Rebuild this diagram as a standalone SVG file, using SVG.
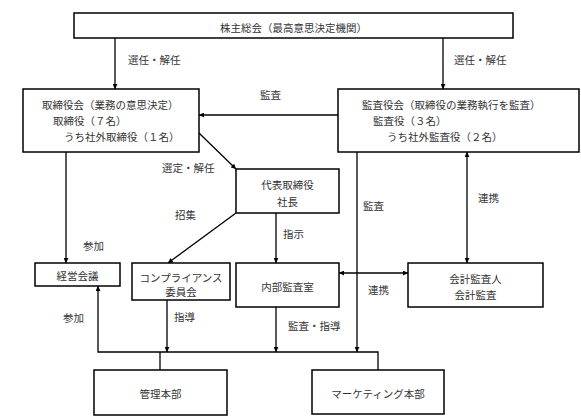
<svg xmlns="http://www.w3.org/2000/svg" width="581" height="418" viewBox="0 0 581 418">
<style>
  .box{fill:#fff;stroke:#000;stroke-width:1.5}
  .t{font-family:"Noto Sans CJK JP","Noto Sans",sans-serif;font-size:10.5px;fill:#333;dominant-baseline:central}
  .m{text-anchor:middle}
  .ln{fill:none;stroke:#000;stroke-width:1.3}
</style>
<defs>
  <marker id="ah" viewBox="0 0 10 10" refX="10" refY="5" markerWidth="5" markerHeight="5" orient="auto-start-reverse" markerUnits="userSpaceOnUse">
    <path d="M0,0 L10,5 L0,10 Z" fill="#000"/>
  </marker>
</defs>
<rect width="581" height="418" fill="#fff"/>

<g id="connectors">
  <line class="ln" x1="115" y1="38" x2="115" y2="89" marker-end="url(#ah)"/>
  <line class="ln" x1="443" y1="38" x2="443" y2="89" marker-end="url(#ah)"/>
  <line class="ln" x1="338" y1="115" x2="199" y2="115" marker-end="url(#ah)"/>
  <line class="ln" x1="199" y1="133" x2="236" y2="169" marker-end="url(#ah)"/>
  <line class="ln" x1="66" y1="152" x2="66" y2="263" marker-end="url(#ah)"/>
  <line class="ln" x1="236" y1="213" x2="168" y2="263" marker-end="url(#ah)"/>
  <line class="ln" x1="276" y1="213" x2="276" y2="263" marker-end="url(#ah)"/>
  <line class="ln" x1="357" y1="152" x2="357" y2="352" marker-end="url(#ah)"/>
  <line class="ln" x1="467" y1="152" x2="467" y2="263" marker-start="url(#ah)" marker-end="url(#ah)"/>
  <line class="ln" x1="339" y1="273" x2="408" y2="273" marker-start="url(#ah)" marker-end="url(#ah)"/>
  <line class="ln" x1="167" y1="300" x2="167" y2="352" marker-end="url(#ah)"/>
  <line class="ln" x1="276" y1="307" x2="276" y2="352" marker-end="url(#ah)"/>
  <polyline class="ln" points="378,370 378,352 98,352 98,286" marker-end="url(#ah)"/>
  <line class="ln" x1="160" y1="352" x2="160" y2="370"/>
  <text class="t" x="128" y="59">選任・解任</text>
  <text class="t" x="454" y="59">選任・解任</text>
  <text class="t" x="260" y="94">監査</text>
  <text class="t" x="162" y="167">選定・解任</text>
  <text class="t" x="175" y="214">招集</text>
  <text class="t" x="83" y="245">参加</text>
  <text class="t" x="283" y="233">指示</text>
  <text class="t" x="363" y="205">監査</text>
  <text class="t" x="478" y="197">連携</text>
  <text class="t" x="368" y="289">連携</text>
  <text class="t" x="63" y="317">参加</text>
  <text class="t" x="174" y="316">指導</text>
  <text class="t" x="288" y="325">監査・指導</text>
</g>

<g id="shareholders">
  <rect class="box" x="74" y="13" width="439" height="25"/>
  <text class="t m" x="293.5" y="27">株主総会（最高意思決定機関）</text>
</g>
<g id="board">
  <rect class="box" x="23" y="89" width="176" height="63"/>
  <text class="t" x="42" y="104">取締役会（業務の意思決定）</text>
  <text class="t" x="53" y="120">取締役（７名）</text>
  <text class="t" x="64" y="136">うち社外取締役（１名）</text>
</g>
<g id="auditors">
  <rect class="box" x="338" y="89" width="241" height="63"/>
  <text class="t" x="362" y="104">監査役会（取締役の業務執行を監査）</text>
  <text class="t" x="373" y="120">監査役（３名）</text>
  <text class="t" x="387" y="136">うち社外監査役（２名）</text>
</g>
<g id="president">
  <rect class="box" x="236" y="169" width="103" height="44"/>
  <text class="t m" x="287.5" y="184">代表取締役</text>
  <text class="t m" x="287.5" y="201">社長</text>
</g>
<g id="management-meeting">
  <rect class="box" x="35" y="263" width="85" height="23"/>
  <text class="t m" x="77.5" y="275">経営会議</text>
</g>
<g id="compliance">
  <rect class="box" x="132" y="263" width="98" height="37"/>
  <text class="t m" x="181" y="277">コンプライアンス</text>
  <text class="t m" x="181" y="291">委員会</text>
</g>
<g id="internal-audit">
  <rect class="box" x="236" y="263" width="103" height="44"/>
  <text class="t m" x="287.5" y="286">内部監査室</text>
</g>
<g id="accounting-auditor">
  <rect class="box" x="408" y="263" width="135" height="44"/>
  <text class="t m" x="475.5" y="278">会計監査人</text>
  <text class="t m" x="475.5" y="294">会計監査</text>
</g>
<g id="admin-hq">
  <rect class="box" x="94" y="370" width="133" height="45"/>
  <text class="t m" x="160.5" y="393">管理本部</text>
</g>
<g id="marketing-hq">
  <rect class="box" x="312" y="370" width="132" height="44"/>
  <text class="t m" x="378" y="393">マーケティング本部</text>
</g>
</svg>
